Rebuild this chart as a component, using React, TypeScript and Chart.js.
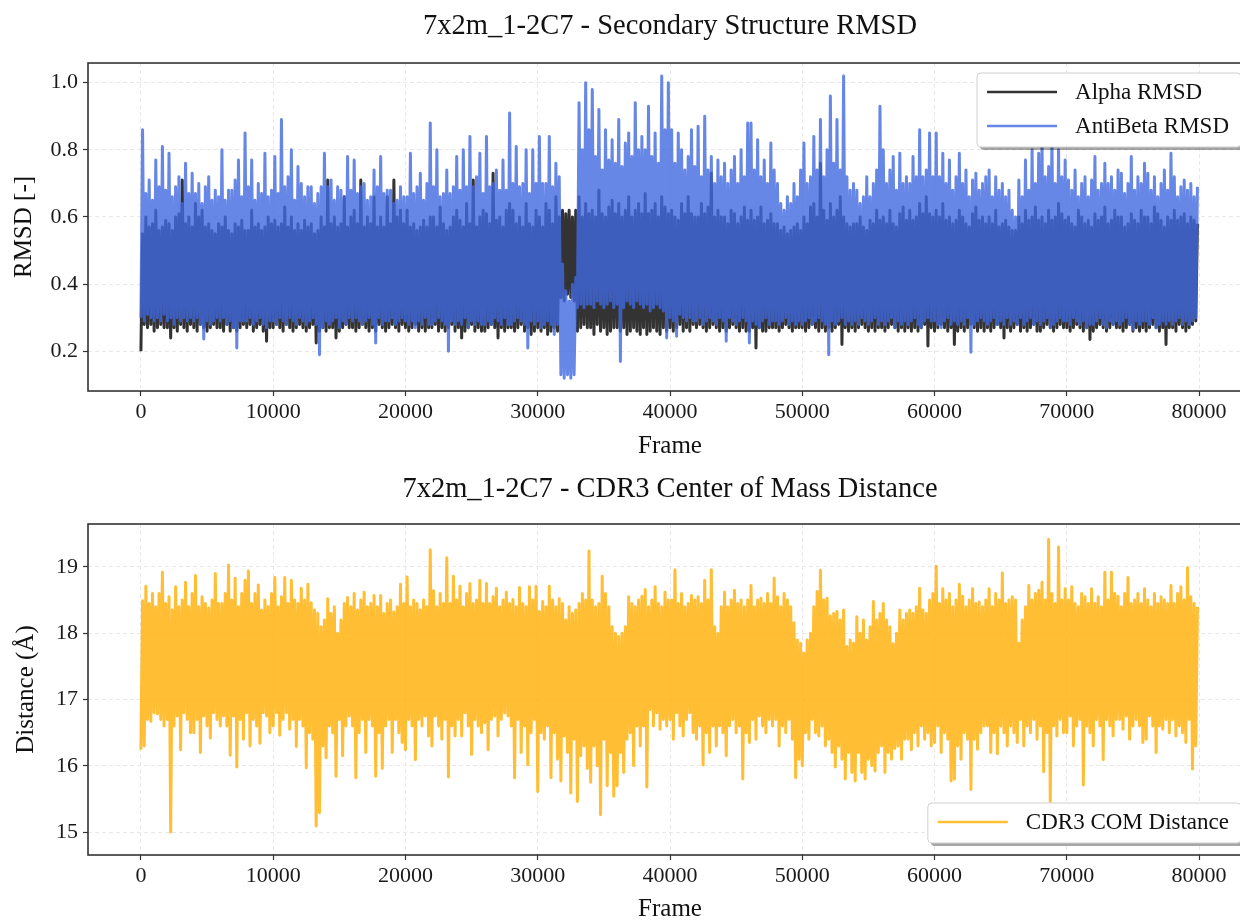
import { useEffect, useRef } from "react";
import { Chart, registerables } from "chart.js";

Chart.register(...registerables);

const SERIF = "'Liberation Serif', 'Times New Roman', serif";

// Each bin spans 250 frames: the trace goes to the bin's low, then to its high.
const FRAMES_PER_BIN = 250;

const frameTicks = [0, 10000, 20000, 30000, 40000, 50000, 60000, 70000, 80000];
const rmsdTicks = [0.2, 0.4, 0.6, 0.8, 1.0];
const distanceTicks = [15, 16, 17, 18, 19];

// Alpha RMSD per 250-frame bin (upper / lower excursion), 4000 frames per row
const alphaHigh = [
  .55, .60, .57, .58, .62, .56, .57, .59, .58, .56, .60, .61, .71, .58, .60, .57,
  .64, .60, .62, .57, .58, .56, .55, .58, .57, .60, .56, .55, .58, .57, .59, .56,
  .56, .62, .57, .58, .56, .57, .60, .58, .59, .57, .58, .63, .57, .60, .56, .58,
  .56, .59, .57, .58, .55, .56, .60, .57, .71, .58, .60, .57, .58, .66, .57, .60,
  .62, .58, .71, .57, .60, .58, .66, .57, .60, .57, .66, .58, .71, .60, .62, .58,
  .62, .57, .58, .56, .57, .59, .57, .60, .60, .57, .63, .58, .56, .57, .60, .62,
  .59, .57, .64, .58, .71, .57, .60, .62, .61, .58, .73, .59, .60, .57, .62, .64,
  .62, .58, .60, .57, .64, .58, .57, .62, .60, .57, .64, .62, .58, .66, .60, .62,
  .61, .62, .60, .62, .66, .60, .64, .61, .62, .60, .68, .61, .60, .63, .65, .61,
  .64, .60, .62, .66, .60, .62, .64, .61, .67, .61, .62, .64, .60, .66, .63, .61,
  .62, .60, .59, .64, .61, .66, .61, .60, .60, .64, .61, .63, .73, .60, .62, .60,
  .60, .58, .62, .61, .58, .60, .63, .59, .62, .59, .60, .63, .58, .59, .61, .58,
  .58, .56, .57, .55, .56, .57, .58, .56, .60, .58, .63, .64, .60, .76, .62, .59,
  .64, .60, .62, .66, .60, .58, .57, .58, .58, .60, .57, .56, .59, .58, .62, .59,
  .60, .58, .62, .58, .57, .61, .63, .59, .62, .59, .60, .64, .61, .66, .61, .60,
  .62, .60, .64, .59, .60, .58, .59, .62, .60, .58, .57, .61, .63, .59, .60, .58,
  .60, .58, .62, .57, .58, .59, .57, .56, .56, .60, .58, .62, .59, .60, .63, .59,
  .60, .58, .62, .59, .60, .64, .61, .59, .60, .58, .57, .62, .60, .58, .59, .57,
  .61, .59, .60, .63, .58, .59, .62, .60, .60, .57, .58, .61, .59, .58, .62, .60,
  .60, .58, .63, .61, .59, .57, .60, .59, .62, .59, .60, .61, .58, .60, .59, .58,
];
const alphaLow = [
  .20, .28, .27, .28, .26, .27, .28, .27, .27, .24, .27, .26, .28, .27, .26, .28,
  .27, .26, .28, .27, .26, .27, .28, .27, .27, .26, .28, .26, .27, .26, .27, .28,
  .27, .28, .26, .27, .28, .26, .23, .27, .27, .28, .27, .26, .28, .27, .26, .27,
  .28, .27, .26, .27, .28, .225, .26, .27, .26, .27, .27, .24, .26, .27, .28, .27,
  .27, .26, .27, .28, .27, .26, .27, .26, .28, .27, .26, .27, .28, .27, .26, .28,
  .27, .26, .27, .28, .26, .27, .26, .27, .27, .28, .26, .27, .26, .27, .28, .26,
  .27, .24, .26, .27, .28, .26, .27, .26, .26, .27, .28, .27, .24, .27, .26, .27,
  .27, .26, .27, .28, .26, .27, .25, .26, .27, .26, .27, .25, .26, .27, .26, .36,
  .35, .37, .36, .35, .26, .27, .28, .27, .27, .25, .28, .26, .27, .25, .26, .27,
  .27, .26, .27, .25, .26, .27, .26, .25, .27, .25, .26, .27, .26, .25, .27, .26,
  .27, .26, .27, .28, .26, .27, .26, .28, .27, .28, .27, .26, .27, .28, .27, .26,
  .27, .26, .27, .28, .27, .26, .27, .26, .26, .27, .21, .27, .26, .26, .27, .27,
  .27, .26, .27, .28, .27, .26, .27, .27, .27, .26, .27, .28, .27, .26, .27, .26,
  .27, .26, .27, .28, .22, .27, .26, .27, .26, .27, .28, .27, .26, .27, .26, .27,
  .27, .26, .27, .28, .27, .26, .27, .26, .27, .26, .27, .26, .27, .28, .216, .27,
  .26, .27, .28, .27, .26, .27, .22, .26, .27, .26, .27, .28, .27, .26, .27, .26,
  .27, .26, .27, .28, .27, .24, .27, .26, .27, .28, .26, .27, .26, .27, .28, .26,
  .26, .27, .28, .27, .26, .27, .28, .27, .27, .26, .27, .28, .27, .26, .27, .235,
  .26, .27, .28, .27, .26, .27, .28, .27, .27, .26, .27, .28, .26, .27, .26, .27,
  .26, .27, .28, .27, .26, .27, .22, .27, .27, .26, .28, .27, .26, .27, .28, .29,
];

// AntiBeta RMSD per 250-frame bin (upper / lower excursion)
const antiBetaHigh = [
  .86, .67, .71, .65, .77, .69, .81, .68, .79, .66, .69, .72, .64, .76, .67, .73,
  .67, .70, .64, .69, .72, .65, .68, .66, .80, .65, .68, .68, .71, .77, .66, .85,
  .69, .77, .65, .70, .67, .79, .66, .68, .78, .67, .89, .69, .72, .80, .65, .75,
  .70, .66, .69, .69, .64, .67, .69, .79, .69, .71, .65, .69, .68, .66, .78, .68,
  .77, .67, .69, .70, .65, .66, .74, .69, .78, .67, .68, .68, .64, .65, .69, .66,
  .66, .79, .67, .69, .73, .65, .70, .88, .69, .80, .66, .67, .74, .67, .69, .78,
  .68, .80, .69, .84, .69, .72, .79, .67, .84, .69, .70, .74, .68, .77, .68, .91,
  .70, .81, .69, .70, .80, .67, .80, .70, .84, .70, .70, .84, .69, .76, .72, .46,
  .38, .35, .40, .42, .94, .80, 1.0, .86, .98, .78, .92, .74, .86, .77, .83, .76,
  .89, .75, .82, .85, .78, .94, .80, .84, .80, .93, .78, .85, .76, 1.02, .86, 1.0,
  .86, .76, .85, .80, .74, .78, .86, .75, .87, .72, .90, .74, .78, .70, .77, .72,
  .76, .70, .74, .78, .70, .80, .72, .88, .88, .74, .83, .72, .77, .70, .82, .74,
  .70, .64, .62, .66, .64, .70, .66, .74, .82, .70, .72, .84, .74, .89, .72, .80,
  .96, .76, .89, .74, 1.02, .72, .68, .70, .68, .64, .66, .72, .66, .70, .74, .93,
  .80, .70, .74, .78, .68, .79, .70, .72, .70, .78, .72, .86, .72, .74, .85, .72,
  .85, .72, .79, .70, .77, .68, .72, .79, .70, .74, .66, .71, .73, .68, .70, .72,
  .74, .66, .72, .68, .70, .66, .68, .62, .60, .71, .66, .77, .68, .80, .70, .79,
  .82, .72, .75, .84, .70, .80, .72, .77, .71, .68, .74, .66, .70, .72, .66, .71,
  .78, .68, .70, .76, .70, .72, .68, .74, .73, .67, .70, .78, .68, .72, .70, .76,
  .73, .68, .72, .66, .70, .74, .68, .79, .72, .66, .69, .71, .68, .70, .66, .69,
];
const antiBetaLow = [
  .30, .29, .31, .30, .29, .30, .29, .31, .29, .30, .28, .30, .29, .30, .29, .30,
  .29, .30, .28, .237, .29, .28, .29, .30, .29, .30, .28, .29, .27, .21, .29, .29,
  .29, .30, .28, .29, .30, .28, .27, .29, .29, .28, .30, .29, .28, .30, .29, .28,
  .30, .29, .28, .29, .30, .28, .19, .27, .29, .28, .29, .30, .27, .29, .28, .30,
  .29, .30, .29, .28, .29, .30, .28, .225, .30, .28, .29, .29, .30, .28, .29, .30,
  .29, .28, .29, .27, .29, .28, .30, .28, .28, .29, .30, .29, .28, .20, .29, .28,
  .29, .28, .30, .27, .29, .28, .29, .28, .28, .29, .28, .30, .29, .28, .30, .28,
  .28, .29, .30, .29, .28, .21, .29, .28, .29, .27, .28, .29, .28, .25, .28, .13,
  .12, .13, .12, .13, .33, .34, .33, .34, .34, .33, .35, .34, .33, .34, .35, .33,
  .34, .17, .33, .35, .34, .33, .35, .34, .33, .34, .32, .33, .34, .33, .32, .24,
  .30, .29, .245, .31, .30, .29, .30, .29, .29, .30, .28, .29, .30, .29, .28, .30,
  .29, .23, .30, .29, .28, .29, .30, .29, .225, .29, .28, .27, .29, .30, .28, .29,
  .29, .28, .29, .30, .28, .29, .28, .29, .28, .29, .30, .28, .29, .30, .29, .28,
  .19, .29, .28, .29, .30, .28, .29, .28, .29, .28, .30, .29, .28, .29, .30, .28,
  .29, .28, .29, .30, .27, .29, .28, .29, .28, .29, .30, .28, .27, .29, .30, .29,
  .29, .28, .27, .29, .30, .28, .29, .28, .29, .28, .30, .197, .28, .29, .30, .29,
  .28, .29, .30, .28, .29, .28, .30, .28, .29, .28, .30, .28, .29, .30, .28, .29,
  .28, .29, .30, .27, .28, .29, .30, .29, .29, .28, .30, .29, .28, .29, .27, .28,
  .28, .29, .30, .28, .27, .29, .28, .29, .28, .29, .30, .28, .265, .29, .28, .29,
  .29, .28, .30, .27, .28, .29, .28, .29, .28, .29, .30, .28, .29, .28, .29, .30,
];

// CDR3 centre-of-mass distance (Å) per 250-frame bin (upper / lower excursion)
const comHigh = [
  18.49, 18.71, 18.45, 18.6, 18.4, 18.6, 18.92, 18.45, 18.55, 18.35, 18.7, 18.4, 18.5, 18.77, 18.4, 18.6,
  18.87, 18.4, 18.55, 18.45, 18.38, 18.5, 18.9, 18.45, 18.45, 18.6, 19.03, 18.5, 18.83, 18.4, 18.6, 18.8,
  18.94, 18.45, 18.6, 18.73, 18.35, 18.5, 18.4, 18.6, 18.84, 18.4, 18.55, 18.84, 18.45, 18.8, 18.5, 18.45,
  18.68, 18.5, 18.74, 18.46, 18.35, 18.3, 18.1, 18.2, 18.52, 18.3, 18.4, 18.0, 18.2, 18.45, 18.54, 18.4,
  18.6, 18.35, 18.5, 18.62, 18.4, 18.45, 18.57, 18.4, 18.57, 18.3, 18.45, 18.5, 18.32, 18.4, 18.74, 18.45,
  18.85, 18.4, 18.5, 18.45, 18.35, 18.5, 18.4, 19.26, 18.64, 18.4, 18.6, 18.45, 19.14, 18.45, 18.86, 18.5,
  18.71, 18.4, 18.6, 18.75, 18.45, 18.5, 18.8, 18.45, 18.75, 18.45, 18.55, 18.68, 18.4, 18.5, 18.62, 18.45,
  18.51, 18.4, 18.69, 18.45, 18.4, 18.7, 18.5, 18.71, 18.33, 18.48, 18.4, 18.71, 18.5, 18.4, 18.52, 18.45,
  18.2, 18.4, 18.3, 18.35, 18.45, 18.6, 18.5, 19.24, 18.5, 18.4, 18.45, 18.86, 18.6, 18.4, 18.1, 18.0,
  17.95, 18.0, 18.1, 18.55, 18.45, 18.4, 18.5, 18.56, 18.66, 18.4, 18.5, 18.7, 18.45, 18.4, 18.62, 18.5,
  18.5, 18.96, 18.45, 18.6, 18.4, 18.45, 18.57, 18.5, 18.55, 18.45, 18.8, 18.5, 18.96, 18.1, 18.0, 18.4,
  18.62, 18.4, 18.5, 18.65, 18.45, 18.5, 18.4, 18.5, 18.72, 18.4, 18.5, 18.53, 18.45, 18.6, 18.45, 18.83,
  18.55, 18.4, 18.6, 18.5, 18.4, 18.16, 17.9, 17.85, 17.7, 17.9, 18.0, 18.4, 18.63, 18.95, 18.5, 18.53,
  18.26, 18.3, 18.33, 18.2, 18.35, 17.8, 17.9, 17.85, 18.25, 18.0, 18.2, 17.9, 18.1, 18.48, 18.2, 18.3,
  18.45, 18.2, 18.1, 17.84, 18.0, 18.35, 18.2, 18.3, 18.35, 18.3, 18.4, 18.68, 18.35, 18.3, 18.5, 18.6,
  19.01, 18.45, 18.67, 18.5, 18.6, 18.4, 18.5, 18.74, 18.56, 18.4, 18.5, 18.67, 18.45, 18.47, 18.4, 18.5,
  18.67, 18.4, 18.6, 18.5, 18.91, 18.45, 18.5, 18.55, 18.5, 17.85, 18.2, 18.4, 18.72, 18.5, 18.6, 18.65,
  18.77, 18.5, 19.42, 18.6, 18.45, 19.3, 18.5, 18.67, 18.5, 18.7, 18.45, 18.4, 18.6, 18.55, 18.45, 18.67,
  18.45, 18.55, 18.4, 18.92, 18.5, 18.92, 18.6, 18.56, 18.4, 18.6, 18.84, 18.45, 18.5, 18.6, 18.45, 18.67,
  18.5, 18.4, 18.6, 18.45, 18.55, 18.5, 18.45, 18.72, 18.45, 18.6, 18.7, 18.5, 18.99, 18.55, 18.45, 18.4,
];
const comLow = [
  16.24, 16.3, 16.7, 16.67, 16.8, 16.78, 16.7, 16.6, 16.7, 15.0, 16.6, 16.75, 16.24, 16.8, 16.7, 16.5,
  16.5, 16.7, 16.2, 16.75, 16.6, 16.42, 16.8, 16.7, 16.6, 16.75, 16.6, 16.16, 16.75, 15.98, 16.7, 16.4,
  16.8, 16.3, 16.7, 16.6, 16.34, 16.8, 16.75, 16.5, 16.6, 16.8, 16.46, 16.7, 16.8, 16.55, 16.7, 16.29,
  16.7, 16.6, 15.97, 16.5, 16.4, 15.09, 15.29, 16.3, 16.12, 16.6, 16.5, 15.84, 16.7, 16.15, 16.6, 16.75,
  16.6, 15.82, 16.5, 16.7, 16.2, 16.7, 16.6, 15.84, 16.5, 15.96, 16.6, 16.7, 16.2, 16.7, 16.5, 16.35,
  16.24, 16.7, 16.6, 16.09, 16.7, 16.6, 16.75, 16.45, 16.3, 16.75, 16.6, 16.4, 16.7, 15.83, 16.6, 16.45,
  16.7, 16.45, 16.8, 16.6, 16.17, 16.7, 16.6, 16.5, 16.65, 16.24, 16.7, 16.75, 16.45, 16.7, 16.8, 16.75,
  16.6, 15.82, 16.7, 16.2, 16.6, 16.01, 16.5, 16.7, 15.61, 16.5, 16.4, 16.6, 15.82, 16.5, 16.1, 15.77,
  16.45, 16.2, 15.59, 16.4, 15.46, 16.15, 16.3, 15.96, 15.75, 16.3, 16.0, 15.26, 16.4, 15.7, 16.2, 15.54,
  15.7, 16.2, 15.9, 16.4, 16.5, 16.0, 16.6, 16.3, 16.6, 15.68, 16.85, 16.6, 16.8, 16.55, 16.7, 16.6,
  16.7, 16.4, 16.8, 16.6, 16.45, 16.7, 16.8, 16.5, 16.4, 16.6, 16.01, 16.5, 16.2, 16.6, 16.3, 16.6,
  16.5, 16.15, 16.6, 16.7, 16.5, 16.6, 15.8, 16.5, 16.35, 16.7, 16.4, 16.75, 16.6, 16.5, 16.7, 16.6,
  16.7, 16.3, 16.6, 16.5, 16.7, 16.4, 15.82, 16.1, 16.0, 16.5, 16.4, 16.7, 16.5, 16.45, 16.6, 16.3,
  16.4, 16.2, 15.98, 16.3, 16.1, 15.8, 16.2, 15.9, 15.77, 16.2, 15.9, 15.8, 16.1, 16.0, 15.92, 16.2,
  16.3, 15.9, 16.2, 16.1, 16.26, 16.3, 16.1, 16.4, 16.4, 16.24, 16.5, 16.3, 16.6, 16.4, 16.5, 16.3,
  16.35, 16.6, 16.2, 16.5, 16.4, 15.77, 15.8, 16.3, 16.1, 16.5, 16.4, 15.64, 16.4, 16.25, 16.5, 16.6,
  16.6, 16.2, 16.5, 16.18, 16.6, 16.5, 16.3, 16.6, 16.5, 16.35, 16.7, 16.3, 16.6, 16.5, 16.7, 16.4,
  16.6, 15.91, 16.5, 15.46, 16.6, 16.45, 16.7, 16.5, 16.5, 16.75, 16.3, 16.6, 16.7, 15.71, 16.6, 16.5,
  16.3, 16.7, 16.6, 16.09, 16.7, 16.6, 16.45, 16.7, 16.7, 16.55, 16.75, 16.4, 16.6, 16.7, 16.6, 16.35,
  16.4, 16.75, 16.6, 16.2, 16.6, 16.55, 16.7, 16.5, 16.7, 16.45, 16.6, 16.5, 16.35, 16.7, 15.95, 16.3,
];

// Zig-zag through each bin: low at the bin start, high at its midpoint.
function binTrace(low: number[], high: number[]) {
  const pts: { x: number; y: number }[] = [];
  for (let i = 0; i < low.length; i++) {
    pts.push({ x: i * FRAMES_PER_BIN, y: low[i] });
    pts.push({ x: i * FRAMES_PER_BIN + FRAMES_PER_BIN / 2, y: high[i] });
  }
  return pts;
}

type DecorOpts = {
  title: string;
  titleY: number;
  xLabel: string;
  xLabelY: number;
  yLabel: string;
  yLabelX: number;
  legendCorner: "upper right" | "lower right";
};

function roundRect(ctx: CanvasRenderingContext2D, x: number, y: number, w: number, h: number, r: number) {
  ctx.beginPath();
  ctx.moveTo(x + r, y);
  ctx.lineTo(x + w - r, y);
  ctx.quadraticCurveTo(x + w, y, x + w, y + r);
  ctx.lineTo(x + w, y + h - r);
  ctx.quadraticCurveTo(x + w, y + h, x + w - r, y + h);
  ctx.lineTo(x + r, y + h);
  ctx.quadraticCurveTo(x, y + h, x, y + h - r);
  ctx.lineTo(x, y + r);
  ctx.quadraticCurveTo(x, y, x + r, y);
  ctx.closePath();
}

const decorPlugin = {
  id: "decor",
  afterDatasetsDraw(chart: any) {
    const { ctx, chartArea: a } = chart;
    ctx.save();
    ctx.strokeStyle = "#333";
    ctx.lineWidth = 1.6;
    ctx.strokeRect(a.left, a.top, a.right - a.left, a.bottom - a.top);
    ctx.restore();
  },
  afterDraw(chart: any, _args: any, opts: DecorOpts) {
    const { ctx, chartArea: a } = chart;
    const cx = (a.left + a.right) / 2;
    ctx.save();
    ctx.fillStyle = "#111";
    ctx.textAlign = "center";
    ctx.textBaseline = "middle";
    ctx.font = `28.5px ${SERIF}`;
    ctx.fillText(opts.title, cx, opts.titleY);
    ctx.font = `25px ${SERIF}`;
    ctx.fillText(opts.xLabel, cx, opts.xLabelY);
    ctx.translate(opts.yLabelX, (a.top + a.bottom) / 2);
    ctx.rotate(-Math.PI / 2);
    ctx.fillText(opts.yLabel, 0, 0);
    ctx.restore();

    // legend box with drop shadow
    const items = chart.data.datasets.map((d: any) => ({ label: d.label, color: d.borderColor }));
    ctx.save();
    ctx.font = `23px ${SERIF}`;
    const textW = Math.max(...items.map((it: any) => ctx.measureText(it.label).width));
    const rowH = 34;
    const w = 98 + textW + 12;
    const h = items.length * rowH + 6;
    const right = a.right - 11;
    const left = right - w;
    const top = opts.legendCorner === "upper right" ? a.top + 10 : a.bottom - 12 - h;
    ctx.fillStyle = "rgba(0,0,0,0.35)";
    roundRect(ctx, left + 3, top + 3, w, h, 4);
    ctx.fill();
    ctx.fillStyle = "#fff";
    roundRect(ctx, left, top, w, h, 4);
    ctx.fill();
    ctx.strokeStyle = "#d0d0d0";
    ctx.lineWidth = 1;
    ctx.stroke();
    items.forEach((it: any, i: number) => {
      const y = top + 19 + i * rowH;
      ctx.strokeStyle = it.color;
      ctx.lineWidth = 2.6;
      ctx.beginPath();
      ctx.moveTo(left + 10, y);
      ctx.lineTo(left + 80, y);
      ctx.stroke();
      ctx.fillStyle = "#111";
      ctx.textAlign = "left";
      ctx.textBaseline = "middle";
      ctx.fillText(it.label, left + 98, y + 1);
    });
    ctx.restore();
  },
};

function axisOptions(
  yMin: number,
  yMax: number,
  yTicks: number[],
  fmt: (v: number) => string,
  xAxisHeight: number,
  padTop: number,
  decor: DecorOpts
) {
  const gridStyle = {
    color: "#e8e8e8",
    lineWidth: 1,
    tickColor: "#333",
    tickLength: 5,
    tickWidth: 1.2,
  };
  const tickFont = { family: SERIF, size: 22 };
  return {
    responsive: false,
    animation: false as const,
    devicePixelRatio: 1,
    events: [] as any[],
    layout: { padding: { top: padTop, right: 10, left: 0, bottom: 0 } },
    plugins: {
      legend: { display: false },
      title: { display: false },
      tooltip: { enabled: false },
      decor,
    },
    elements: { point: { radius: 0 }, line: { tension: 0 } },
    scales: {
      x: {
        type: "linear" as const,
        min: -4000,
        max: 84000,
        afterBuildTicks: (s: any) => {
          s.ticks = frameTicks.map((v) => ({ value: v }));
        },
        afterFit: (s: any) => {
          s.height = xAxisHeight;
        },
        ticks: {
          font: tickFont,
          color: "#1a1a1a",
          padding: 3,
          maxRotation: 0,
          autoSkip: false,
          callback: (v: any) => String(v),
        },
        grid: gridStyle,
        border: { display: false, dash: [4, 3] },
      },
      y: {
        type: "linear" as const,
        min: yMin,
        max: yMax,
        afterBuildTicks: (s: any) => {
          s.ticks = yTicks.map((v) => ({ value: v }));
        },
        afterFit: (s: any) => {
          s.width = 88;
        },
        ticks: {
          font: tickFont,
          color: "#1a1a1a",
          padding: 5,
          autoSkip: false,
          callback: (v: any) => fmt(Number(v)),
        },
        grid: gridStyle,
        border: { display: false, dash: [4, 3] },
      },
    },
  };
}

export default function App() {
  const topRef = useRef<HTMLCanvasElement>(null);
  const bottomRef = useRef<HTMLCanvasElement>(null);

  useEffect(() => {
    const lineStyle = {
      borderWidth: 3,
      pointRadius: 0,
      borderJoinStyle: "round" as const,
      fill: false,
      parsing: false as const,
    };

    const rmsdChart = new Chart(topRef.current!, {
      type: "line",
      data: {
        datasets: [
          {
            ...lineStyle,
            label: "Alpha RMSD",
            data: binTrace(alphaLow, alphaHigh),
            borderColor: "rgba(0,0,0,0.8)",
            order: 2,
          },
          {
            ...lineStyle,
            label: "AntiBeta RMSD",
            data: binTrace(antiBetaLow, antiBetaHigh),
            borderColor: "rgba(65,105,225,0.8)",
            order: 1,
          },
        ],
      },
      options: axisOptions(0.0818, 1.0586, rmsdTicks, (v) => v.toFixed(1), 69, 63, {
        title: "7x2m_1-2C7 - Secondary Structure RMSD",
        titleY: 27,
        xLabel: "Frame",
        xLabelY: 446,
        yLabel: "RMSD [-]",
        yLabelX: 24,
        legendCorner: "upper right",
      }) as any,
      plugins: [decorPlugin],
    });

    const comChart = new Chart(bottomRef.current!, {
      type: "line",
      data: {
        datasets: [
          {
            ...lineStyle,
            label: "CDR3 COM Distance",
            data: binTrace(comLow, comHigh),
            borderColor: "rgba(255,174,0,0.8)",
          },
        ],
      },
      options: axisOptions(14.653, 19.649, distanceTicks, (v) => String(v), 66, 64, {
        title: "7x2m_1-2C7 - CDR3 Center of Mass Distance",
        titleY: 30,
        xLabel: "Frame",
        xLabelY: 449,
        yLabel: "Distance (Å)",
        yLabelX: 26,
        legendCorner: "lower right",
      }) as any,
      plugins: [decorPlugin],
    });

    return () => {
      rmsdChart.destroy();
      comChart.destroy();
    };
  }, []);

  return (
    <div
      style={{
        position: "fixed",
        left: 0,
        top: 0,
        width: 1240,
        height: 921,
        overflow: "hidden",
        background: "#fff",
      }}
    >
      <canvas ref={topRef} width={1262} height={460} style={{ position: "absolute", left: 0, top: 0 }} />
      <canvas ref={bottomRef} width={1262} height={461} style={{ position: "absolute", left: 0, top: 460 }} />
    </div>
  );
}
